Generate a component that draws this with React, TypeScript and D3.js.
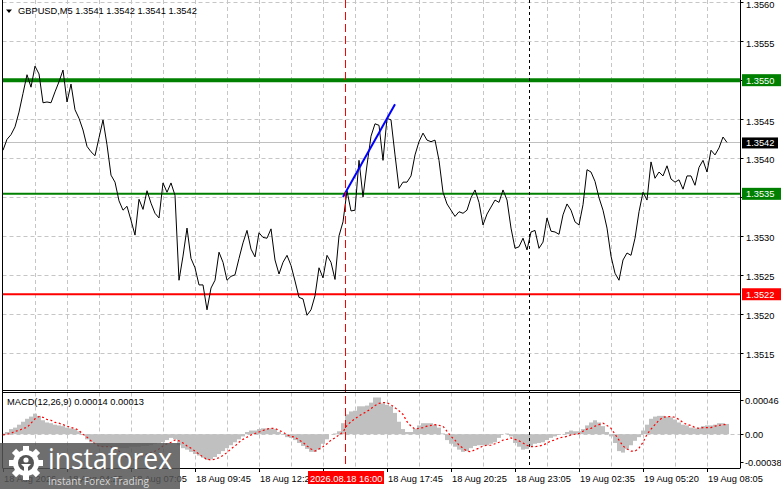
import React from 'react';
import * as d3 from 'd3';

// ---------- data ----------
const symbolTitle = 'GBPUSD,M5  1.3541 1.3542 1.3541 1.3542';
const macdTitle = 'MACD(12,26,9) 0.00014 0.00013';

// close prices, one value every 2 bars (M5)
const closes = [
  1.35410, 1.35424, 1.35430, 1.35440, 1.35459, 1.35483, 1.35507, 1.35491, 1.35518, 1.35508,
  1.35471, 1.35472, 1.35471, 1.35485, 1.35498, 1.35513, 1.35472, 1.35495, 1.35462, 1.35451,
  1.35436, 1.35415, 1.35408, 1.35403, 1.35426, 1.35449, 1.35417, 1.35378, 1.35369, 1.35345,
  1.35333, 1.35338, 1.35320, 1.35301, 1.35347, 1.35334, 1.35358, 1.35342, 1.35329, 1.35323,
  1.35368, 1.35356, 1.35368, 1.35352, 1.35243, 1.35274, 1.35310, 1.35271, 1.35259, 1.35237,
  1.35237, 1.35205, 1.35233, 1.35243, 1.35279, 1.35266, 1.35243, 1.35248, 1.35250, 1.35271,
  1.35291, 1.35307, 1.35283, 1.35273, 1.35304, 1.35298, 1.35297, 1.35309, 1.35269, 1.35251,
  1.35266, 1.35275, 1.35262, 1.35242, 1.35221, 1.35219, 1.35198, 1.35205, 1.35223, 1.35259,
  1.35246, 1.35275, 1.35266, 1.35244, 1.35300, 1.35318, 1.35358, 1.35332, 1.35333, 1.35397,
  1.35350, 1.35391, 1.35428, 1.35444, 1.35442, 1.35397, 1.35451, 1.35449, 1.35404, 1.35361,
  1.35369, 1.35369, 1.35377, 1.35404, 1.35421, 1.35432, 1.35423, 1.35421, 1.35423, 1.35397,
  1.35356, 1.35341, 1.35333, 1.35325, 1.35331, 1.35329, 1.35333, 1.35349, 1.35359, 1.35343,
  1.35314, 1.35328, 1.35337, 1.35346, 1.35343, 1.35359, 1.35346, 1.35310, 1.35284, 1.35286,
  1.35297, 1.35282, 1.35305, 1.35307, 1.35284, 1.35292, 1.35323, 1.35306, 1.35305, 1.35302,
  1.35327, 1.35341, 1.35333, 1.35318, 1.35314, 1.35340, 1.35385, 1.35382, 1.35370, 1.35349,
  1.35333, 1.35310, 1.35274, 1.35252, 1.35243, 1.35269, 1.35278, 1.35275, 1.35297, 1.35331,
  1.35356, 1.35346, 1.35395, 1.35374, 1.35382, 1.35377, 1.35390, 1.35373, 1.35369, 1.35372,
  1.35360, 1.35377, 1.35377, 1.35365, 1.35388, 1.35397, 1.35382, 1.35410, 1.35404, 1.35413,
  1.35427, 1.35420,
];

// MACD main (histogram) in points (1e-5), one value every 2 bars
const macdMain = [
  1, 3, 7, 9, 13, 17, 21, 24, 28, 25,
  19, 16, 15, 13, 12, 11, 9, 8, 7, 4,
  -1, -7, -11, -13, -17, -17, -17, -17, -17, -19,
  -19, -19, -17, -17, -17, -16, -16, -15, -13, -12,
  -11, -8, -5, -7, -15, -19, -21, -24, -27, -29,
  -32, -35, -34, -31, -27, -23, -19, -15, -11, -7,
  -3, 3, 5, 5, 7, 8, 8, 8, 7, 3,
  -1, -4, -5, -8, -12, -16, -20, -24, -24, -21,
  -13, -7, 0, 1, 4, 15, 27, 31, 32, 38,
  38, 39, 43, 50, 50, 42, 40, 38, 29, 17,
  7, 3, 3, 7, 12, 15, 15, 15, 13, 9,
  1, -8, -13, -17, -21, -24, -23, -19, -16, -15,
  -15, -15, -13, -11, -5, 0, 1, -3, -12, -17,
  -21, -20, -16, -13, -12, -11, -8, -5, -3, -1,
  0, 3, 5, 4, 4, 7, 12, 16, 19, 16,
  11, 3, -3, -12, -23, -25, -20, -15, -9, -4,
  5, 13, 21, 24, 25, 25, 24, 23, 20, 16,
  13, 12, 9, 8, 9, 11, 12, 12, 13, 15,
  15, 14,
];

// MACD signal in points (1e-5)
const macdSignal = [
  -1, 0, 1, 4, 5, 8, 9, 15, 21, 24,
  23, 20, 19, 16, 15, 13, 11, 9, 8, 5,
  0, -4, -9, -13, -16, -17, -17, -17, -20, -23,
  -28, -32, -35, -35, -32, -29, -27, -25, -23, -20,
  -16, -13, -11, -8, -9, -12, -16, -19, -23, -27,
  -31, -34, -35, -34, -32, -29, -25, -20, -16, -11,
  -7, -4, -1, 1, 3, 5, 7, 8, 8, 5,
  3, -1, -3, -4, -8, -11, -16, -20, -23, -20,
  -17, -13, -8, -5, -1, 3, 12, 17, 21, 25,
  28, 31, 35, 39, 42, 43, 43, 40, 36, 32,
  27, 17, 11, 7, 8, 9, 11, 12, 13, 12,
  11, 4, -3, -8, -15, -19, -23, -24, -21, -19,
  -16, -15, -15, -13, -11, -8, -7, -5, -7, -9,
  -12, -15, -17, -17, -16, -15, -12, -9, -8, -5,
  -4, -3, -1, 0, 1, 4, 7, 8, 11, 13,
  15, 12, 8, 0, -8, -16, -20, -23, -23, -19,
  -11, 0, 7, 13, 19, 23, 24, 24, 23, 20,
  16, 13, 12, 9, 8, 9, 9, 9, 11, 12,
  13, 13,
];

const priceTicks = [1.3560, 1.3555, 1.3550, 1.3545, 1.3540, 1.3535, 1.3530, 1.3525, 1.3520, 1.3515];
const priceTickLabels = ['1.3560', '1.3555', '1.3550', '1.3545', '1.3540', '1.3535', '1.3530', '1.3525', '1.3520', '1.3515'];

const macdTicks = [46, 0, -38];
const macdTickLabels = ['0.00046', '0.00', '-0.00038'];

const timeLabels = [
  '18 Aug 2026', '18 Aug 04:25', '18 Aug 07:05', '18 Aug 09:45', '18 Aug 12:25', '18 Aug 15:05',
  '18 Aug 17:45', '18 Aug 20:25', '18 Aug 23:05', '19 Aug 02:35', '19 Aug 05:20', '19 Aug 08:05',
];

const levelPrices = [1.3550, 1.35354, 1.35225];
const levelLabels = ['1.3550', '1.3535', '1.3522'];
const levelColors = ['#008000', '#008000', '#ff0000'];
const levelWidths = [4, 2, 2];

const currentPrice = 1.35420;
const currentLabel = '1.3542';

const trendBars = [170, 196];
const trendPrices = [1.35350, 1.35469];

const redLineBar = 171;
const redLineLabel = '2026.08.18 16:00';
const blackLineBar = 263;

// ---------- layout ----------
const W = 781;
const H = 489;
const LEFT = 2.5;
const RIGHT = 740.5;
const MAIN_BOTTOM = 390;
const MACD_TOP = 392.5;
const MACD_BOTTOM = 468;
const FONT = "'Liberation Sans', Arial, sans-serif";
const FS = 9.3;
const BAR_STEP = 2;
const LABEL_EVERY = 32;
const GRID_EVERY = 16;

export default function App() {
  const nBars = (closes.length - 1) * BAR_STEP;
  const x = d3.scaleLinear().domain([0, nBars]).range([3, 727]);
  const y = d3.scaleLinear().domain([1.35102, 1.35603]).range([MAIN_BOTTOM, 0]);
  const ym = d3.scaleLinear().domain([-46, 56.8]).range([MACD_BOTTOM, MACD_TOP]);

  const priceLine = d3
    .line<number>()
    .x((_, i) => x(i * BAR_STEP))
    .y((d) => y(d))(closes) as string;

  const signalLine = d3
    .line<number>()
    .x((_, i) => x(i * BAR_STEP))
    .y((d) => ym(d))(macdSignal) as string;

  const gridBars = d3.range(GRID_EVERY, 360, GRID_EVERY);
  const labelBars = timeLabels.map((_, i) => i * LABEL_EVERY);
  const barW = x(BAR_STEP) - x(0);

  // tick labels hidden behind a level box are not drawn (as in the terminal)
  const hiddenByBox = (label: string) => levelLabels.includes(label);
  const redBoxX0 = x(redLineBar) - 37;
  const redBoxX1 = x(redLineBar) + 39;
  const hiddenByTimeBox = (b: number) => x(b) > redBoxX0 - 5 && x(b) < redBoxX1;

  const grid = '#c6c6c6';

  return (
    <svg
      width={W}
      height={H}
      style={{ position: 'absolute', left: 0, top: 0, background: '#fff' }}
      fontFamily={FONT}
      fontSize={FS}
    >
      <defs>
        <clipPath id="mainClip">
          <rect x={LEFT + 0.5} y={0} width={RIGHT - LEFT - 1} height={MAIN_BOTTOM} />
        </clipPath>
        <clipPath id="macdClip">
          <rect x={LEFT + 0.5} y={MACD_TOP + 0.5} width={RIGHT - LEFT - 1} height={MACD_BOTTOM - MACD_TOP - 1} />
        </clipPath>
      </defs>
      <rect x={0} y={0} width={W} height={H} fill="#fff" />

      {/* grid: main */}
      <g stroke={grid} strokeWidth={1} strokeDasharray="4,3" clipPath="url(#mainClip)">
        {gridBars.map((b) => (
          <line key={'vg' + b} x1={Math.round(x(b)) + 0.5} x2={Math.round(x(b)) + 0.5} y1={0} y2={MAIN_BOTTOM} />
        ))}
        {priceTicks.map((p) => (
          <line key={'hg' + p} x1={LEFT} x2={RIGHT} y1={Math.round(y(p)) + 0.5} y2={Math.round(y(p)) + 0.5} />
        ))}
      </g>
      {/* grid: macd */}
      <g stroke={grid} strokeWidth={1} strokeDasharray="4,3" clipPath="url(#macdClip)">
        {gridBars.map((b) => (
          <line key={'vgm' + b} x1={Math.round(x(b)) + 0.5} x2={Math.round(x(b)) + 0.5} y1={MACD_TOP} y2={MACD_BOTTOM} />
        ))}
      </g>

      {/* current price line */}
      <line x1={LEFT} x2={RIGHT} y1={Math.round(y(currentPrice)) + 0.5} y2={Math.round(y(currentPrice)) + 0.5} stroke="#c0c0c0" strokeWidth={1} />

      {/* level lines */}
      {levelPrices.map((p, i) => (
        <line
          key={'lv' + i}
          x1={LEFT}
          x2={RIGHT}
          y1={y(p)}
          y2={y(p)}
          stroke={levelColors[i]}
          strokeWidth={levelWidths[i]}
        />
      ))}

      {/* price line */}
      <g clipPath="url(#mainClip)">
        <path d={priceLine} fill="none" stroke="#000" strokeWidth={1} />
        <line
          x1={x(trendBars[0])}
          y1={y(trendPrices[0])}
          x2={x(trendBars[1])}
          y2={y(trendPrices[1])}
          stroke="#0000ff"
          strokeWidth={2}
        />
      </g>

      {/* MACD */}
      <line x1={LEFT} x2={RIGHT} y1={Math.round(ym(0)) + 0.5} y2={Math.round(ym(0)) + 0.5} stroke={grid} strokeDasharray="4,3" />
      <g clipPath="url(#macdClip)">
        {macdMain.map((v, i) => (
          <rect
            key={'h' + i}
            x={x(i * BAR_STEP) - barW / 2}
            width={barW}
            y={Math.min(ym(v), ym(0))}
            height={Math.abs(ym(v) - ym(0))}
            fill="#c0c0c0"
          />
        ))}
        <path d={signalLine} fill="none" stroke="#ff0000" strokeWidth={1.2} strokeDasharray="2,2.5" />
      </g>

      {/* vertical marker lines */}
      <line x1={x(redLineBar) + 0.5} x2={x(redLineBar) + 0.5} y1={0} y2={MACD_BOTTOM} stroke="#ff0000" strokeWidth={1} strokeDasharray="8,4" />
      <line x1={x(blackLineBar) + 0.5} x2={x(blackLineBar) + 0.5} y1={0} y2={MACD_BOTTOM} stroke="#000" strokeWidth={1} strokeDasharray="3,3" />

      {/* frames */}
      <g stroke="#000" strokeWidth={1} fill="none">
        <line x1={LEFT} x2={LEFT} y1={0} y2={MACD_BOTTOM} />
        <line x1={RIGHT} x2={RIGHT} y1={0} y2={MACD_BOTTOM} />
        <line x1={LEFT} x2={RIGHT} y1={MAIN_BOTTOM + 0.5} y2={MAIN_BOTTOM + 0.5} />
        <line x1={LEFT} x2={RIGHT} y1={MACD_TOP} y2={MACD_TOP} />
        <line x1={LEFT} x2={RIGHT} y1={MACD_BOTTOM + 0.5} y2={MACD_BOTTOM + 0.5} />
      </g>

      {/* right price axis */}
      {priceTicks.map((p, i) => (
        <g key={'pt' + p}>
          <line x1={RIGHT} x2={RIGHT + 3} y1={Math.round(y(p)) + 0.5} y2={Math.round(y(p)) + 0.5} stroke="#000" />
          {!hiddenByBox(priceTickLabels[i]) && (
            <text x={746} y={y(p) + 5.4} fill="#000">
              {priceTickLabels[i]}
            </text>
          )}
        </g>
      ))}
      {macdTicks.map((v, i) => (
        <g key={'mt' + v}>
          <line x1={RIGHT} x2={RIGHT + 3} y1={Math.round(ym(v)) + 0.5} y2={Math.round(ym(v)) + 0.5} stroke="#000" />
          <text x={745} y={ym(v) + 3.5} fill="#000">
            {macdTickLabels[i]}
          </text>
        </g>
      ))}

      {/* level boxes */}
      {levelPrices.map((p, i) => (
        <g key={'lb' + i}>
          <rect x={742} y={y(p) - 6} width={39} height={12} fill={levelColors[i]} />
          <text x={746} y={y(p) + 3.4} fill="#fff">
            {levelLabels[i]}
          </text>
        </g>
      ))}
      <rect x={742} y={y(currentPrice) - 5} width={36} height={11} fill="#000" />
      <text x={746} y={y(currentPrice) + 3.4} fill="#fff">
        {currentLabel}
      </text>

      {/* time axis */}
      {labelBars.map((b, i) => (
        <g key={'tl' + i}>
          <line x1={Math.round(x(b)) + 0.5} x2={Math.round(x(b)) + 0.5} y1={MACD_BOTTOM} y2={MACD_BOTTOM + 4} stroke="#000" />
          {!hiddenByTimeBox(b) && (
            <text x={x(b) + 1} y={481.5} fill="#000">
              {timeLabels[i]}
            </text>
          )}
        </g>
      ))}
      <rect x={redBoxX0} y={471} width={redBoxX1 - redBoxX0} height={13} fill="#ff0000" />
      <text x={x(redLineBar) - 35} y={481.5} fill="#fff">
        {redLineLabel}
      </text>

      {/* titles */}
      <path d="M6,9.5 L12,9.5 L9,13 Z" fill="#000" />
      <text x={18} y={14} fill="#000">
        {symbolTitle}
      </text>
      <text x={7} y={405} fill="#000">
        {macdTitle}
      </text>

      {/* watermark */}
      <g>
        <rect x={0} y={443} width={180} height={46} fill="#555" opacity={0.85} />
        <g transform="translate(26,463)" fill="#fff">
          {d3.range(8).map((i) => (
            <rect key={'tooth' + i} x={-3} y={-17} width={6} height={6} transform={`rotate(${i * 45})`} />
          ))}
          <circle r={13} fill="#fff" />
          <circle r={8} fill="#555" />
          <circle cx={0} cy={-3} r={2.6} fill="#fff" />
          <path d="M-5,1 L5,1 L2,4 L2,9 L-2,9 L-2,4 Z" fill="#fff" />
        </g>
        <text
          x={48}
          y={469}
          fill="#fff"
          fontFamily="'Open Sans', Roboto, sans-serif"
          fontSize={30}
          textLength={124}
          lengthAdjust="spacingAndGlyphs"
        >
          instaforex
        </text>
        <text
          x={48}
          y={485}
          fill="#d8d8d8"
          fontFamily="'Open Sans', Roboto, sans-serif"
          fontSize={11}
          textLength={101}
          lengthAdjust="spacingAndGlyphs"
        >
          Instant Forex Trading
        </text>
      </g>
    </svg>
  );
}
